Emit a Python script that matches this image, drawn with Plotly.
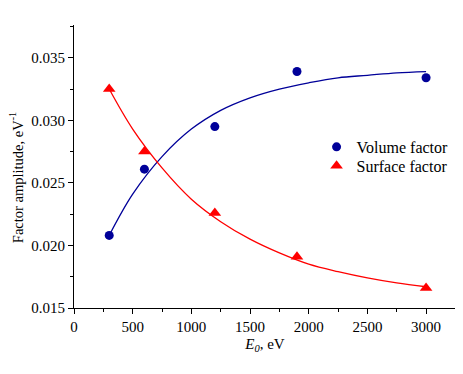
import plotly.graph_objects as go

# Measured points
energy = [300, 600, 1200, 1900, 3000]
volume_factor = [0.0208, 0.0261, 0.0295, 0.0339, 0.0334]
surface_factor = [0.0325, 0.0275, 0.0226, 0.0191, 0.0166]

# Fitted curves
fit_energy = [300, 500, 750, 1000, 1250, 1500, 1750, 2000, 2250, 2500, 2750, 3000]
volume_fit = [0.0208, 0.0241, 0.0271, 0.0293, 0.0308, 0.0318, 0.0325, 0.0330, 0.0334, 0.0336, 0.0338, 0.0339]
surface_fit = [0.0325, 0.0293, 0.0262, 0.0237, 0.0219, 0.0205, 0.0194, 0.0185, 0.0179, 0.0174, 0.0170, 0.0167]

x_ticks = [0, 500, 1000, 1500, 2000, 2500, 3000]
y_ticks = [0.015, 0.020, 0.025, 0.030, 0.035]

BLUE = "#000099"
RED = "#ff0000"
FONT = "Liberation Serif, Times New Roman, serif"

fig = go.Figure()
fig.add_trace(go.Scatter(x=fit_energy, y=volume_fit, mode="lines", line=dict(color=BLUE, width=1.3, shape="spline"),
                         showlegend=False, hoverinfo="skip"))
fig.add_trace(go.Scatter(x=fit_energy, y=surface_fit, mode="lines", line=dict(color=RED, width=1.3, shape="spline"),
                         showlegend=False, hoverinfo="skip"))
fig.add_trace(go.Scatter(x=energy, y=volume_factor, mode="markers", name="Volume factor",
                         marker=dict(symbol="circle", size=9, color=BLUE), legend="legend"))
fig.add_trace(go.Scatter(x=energy, y=surface_factor, mode="markers", name="Surface factor",
                         marker=dict(symbol="triangle-up", size=11, color=RED), legend="legend2"))

axis_common = dict(
    showgrid=False, zeroline=False, showline=True, linecolor="black", linewidth=1,
    ticks="outside", ticklen=5, tickwidth=1, tickcolor="black",
    tickfont=dict(family=FONT, size=15, color="black"),
    mirror=False, automargin=False,
)

legend_common = dict(x=0.635, xanchor="left", yanchor="middle", bgcolor="rgba(0,0,0,0)",
                     font=dict(family=FONT, size=16, color="black"), itemsizing="trace")

fig.update_layout(
    width=463, height=374,
    margin=dict(l=66, r=15, t=17, b=74),
    paper_bgcolor="white", plot_bgcolor="white",
    font=dict(family=FONT, size=15, color="black"),
    xaxis=dict(range=[0, 3255], tickvals=x_ticks, ticktext=[str(v) for v in x_ticks],
               minor=dict(ticks="outside", ticklen=3, dtick=250, tick0=0, tickcolor="black"),
               title=dict(text="<i>E</i><sub><i>0</i></sub>, eV", font=dict(family=FONT, size=15), standoff=4),
               **axis_common),
    yaxis=dict(range=[0.015, 0.03762], tickvals=y_ticks, ticktext=[f"{v:.3f}" for v in y_ticks],
               minor=dict(ticks="outside", ticklen=3, dtick=0.0025, tick0=0.015, tickcolor="black"),
               **axis_common),
    legend=dict(y=0.569, **legend_common),
    legend2=dict(y=0.502, **legend_common),
    annotations=[dict(text="Factor amplitude, eV<sup>-1</sup>", textangle=-90,
                      xref="paper", yref="paper", x=-0.151, y=0.46,
                      xanchor="center", yanchor="middle", showarrow=False,
                      font=dict(family=FONT, size=14.5, color="black"))],
)

fig.write_html("out.html")
